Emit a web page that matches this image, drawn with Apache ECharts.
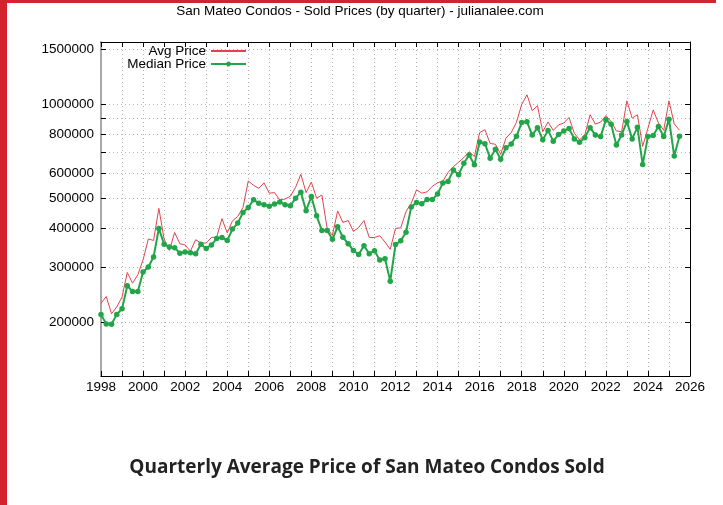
<!DOCTYPE html>
<html><head><meta charset="utf-8">
<script src="https://cdn.jsdelivr.net/npm/echarts@6/dist/echarts.min.js"></script>
<style>html,body{margin:0;padding:0;background:#fff;width:723px;height:505px;overflow:hidden}
#c{width:723px;height:505px}</style></head>
<body><div id="c"></div>
<script>
// ---- data (quarterly, starting 1998 Q1) ----
const startYear = 1998;
const avgPrice = [
230000,242000,213000,224000,241000,289000,267000,284000,317000,370000,
366000,464000,370000,340000,388000,357000,354000,338000,368000,359000,
359000,374000,375000,430000,387000,423000,437000,467000,568000,550000,
538000,560000,519000,521000,494000,497000,507000,542000,597000,521000,
563000,500000,512000,400000,380000,455000,418000,424000,391000,403000,
424000,374000,374000,379000,362000,343000,400000,402000,453000,482000,
532000,519000,524000,546000,560000,567000,605000,631000,652000,675000,
705000,680000,812000,830000,749000,745000,692000,779000,812000,876000,
1000000,1073000,955000,990000,817000,878000,825000,859000,871000,908000,
808000,770000,798000,926000,864000,877000,920000,881000,822000,817000,
1026000,903000,926000,733000,838000,960000,871000,826000,1026000,866000,
826000];
const medianPrice = [
212000,197500,197000,212000,221000,262000,251000,251000,290000,301000,
324000,400000,356000,349000,347000,333000,336000,334000,332000,356000,
345000,354000,371000,374000,366000,398000,416000,450000,467000,494000,
482000,476000,471000,479000,486000,476000,473000,500000,523000,456000,
506000,439000,394000,394000,369000,405000,375000,357000,340000,330000,
352000,332000,339000,317000,320000,271000,355000,365000,389000,469000,
484000,480000,495000,495000,516000,559000,566000,616000,595000,647000,
688000,640000,757000,748000,672000,718000,667000,726000,746000,790000,
874000,879000,797000,842000,770000,825000,762000,800000,822000,837000,
775000,756000,782000,842000,798000,788000,892000,864000,741000,798000,
881000,775000,845000,641000,788000,794000,849000,788000,896000,683000,
790000];
const yTickLabels = [200000,300000,400000,500000,600000,800000,1000000,1500000];
const yGridValues = [200000,300000,400000,500000,600000,700000,800000,900000,1000000,1500000];
const xMin = 1998, xMax = 2026;
const seriesNames = ['Avg Price','Median Price'];
const chartTitle = 'San Mateo Condos - Sold Prices (by quarter) - julianalee.com';
const caption = 'Quarterly Average Price of San Mateo Condos Sold';

// ---- chart ----
const RED = '#e2434d', GREEN = '#22a548';
const FONT = '"Liberation Sans", Arial, sans-serif';
const gridLine = {color:'#b4b4b4', width:1, type:[1,3]};
const toXY = arr => arr.map((v,i)=>[startYear + i*0.25, v]);

const chart = echarts.init(document.getElementById('c'), null, {renderer:'canvas'});
const legendBase = {
  orient:'horizontal', right:476, align:'right', itemWidth:35, itemHeight:6,
  padding:0, itemGap:0, selectedMode:false,
  textStyle:{color:'#000', fontSize:13.5, fontFamily:FONT}
};
chart.setOption({
  animation:false,
  backgroundColor:'#fff',
  grid:{left:101, right:33, top:42, bottom:129, containLabel:false},
  legend:[
    Object.assign({}, legendBase, {data:[seriesNames[0]], top:44, itemStyle:{opacity:0}}),
    Object.assign({}, legendBase, {data:[seriesNames[1]], top:57})
  ],
  xAxis:[{
    type:'value', min:xMin, max:xMax, interval:1, position:'bottom',
    axisLine:{show:true, onZero:false, lineStyle:{color:'#000', width:1}},
    axisTick:{show:true, inside:true, length:5, lineStyle:{color:'#000'}},
    axisLabel:{formatter:v => (v % 2 === 0 ? String(v) : ''), color:'#000', fontSize:13.5, fontFamily:FONT, margin:4},
    splitLine:{show:true, lineStyle:gridLine}
  },{
    type:'value', min:xMin, max:xMax, interval:1, position:'top',
    axisLine:{show:true, onZero:false, lineStyle:{color:'#000', width:1}},
    axisTick:{show:true, inside:true, length:5, lineStyle:{color:'#000'}},
    axisLabel:{show:false}, splitLine:{show:false}
  }],
  yAxis:[{
    type:'log', logBase:10, min:134500, max:1585000, position:'left',
    axisLine:{show:true, onZero:false, lineStyle:{color:'#a8a8a8', width:2}},
    axisTick:{show:true, inside:true, length:5, lineStyle:{color:'#000'}, customValues:yGridValues},
    axisLabel:{customValues:yTickLabels, formatter:v => String(Math.round(v)), color:'#000', fontSize:13.5, fontFamily:FONT, margin:7},
    splitLine:{show:true, lineStyle:gridLine}
  },{
    type:'log', logBase:10, min:134500, max:1585000, position:'right',
    axisLine:{show:true, onZero:false, lineStyle:{color:'#000', width:1}},
    axisTick:{show:true, inside:true, length:5, lineStyle:{color:'#000'}, customValues:yTickLabels},
    axisLabel:{show:false}, splitLine:{show:false}
  }],
  series:[{
    name:seriesNames[0], type:'line', data:toXY(avgPrice), symbol:'none',
    lineStyle:{color:RED, width:1}, itemStyle:{color:RED}, z:2
  },{
    name:seriesNames[1], type:'line', data:toXY(medianPrice), symbol:'circle', symbolSize:5.5,
    lineStyle:{color:GREEN, width:2}, itemStyle:{color:GREEN}, z:3
  }],
  graphic:[
    {type:'rect', shape:{x:0, y:0, width:7, height:505}, style:{fill:'#d3232f'}, silent:true},
    {type:'rect', shape:{x:0, y:0, width:716, height:3}, style:{fill:'#d3232f'}, silent:true},
    {type:'text', x:360, y:11, style:{text:chartTitle, align:'center', verticalAlign:'middle', fill:'#000', font:'13.5px "Liberation Sans", Arial, sans-serif'}},
    {type:'text', x:367, y:468, style:{text:caption, align:'center', verticalAlign:'middle', fill:'#222', font:'bold 19px "Open Sans", "Liberation Sans", Arial, sans-serif'}}
  ]
});
</script></body></html>
